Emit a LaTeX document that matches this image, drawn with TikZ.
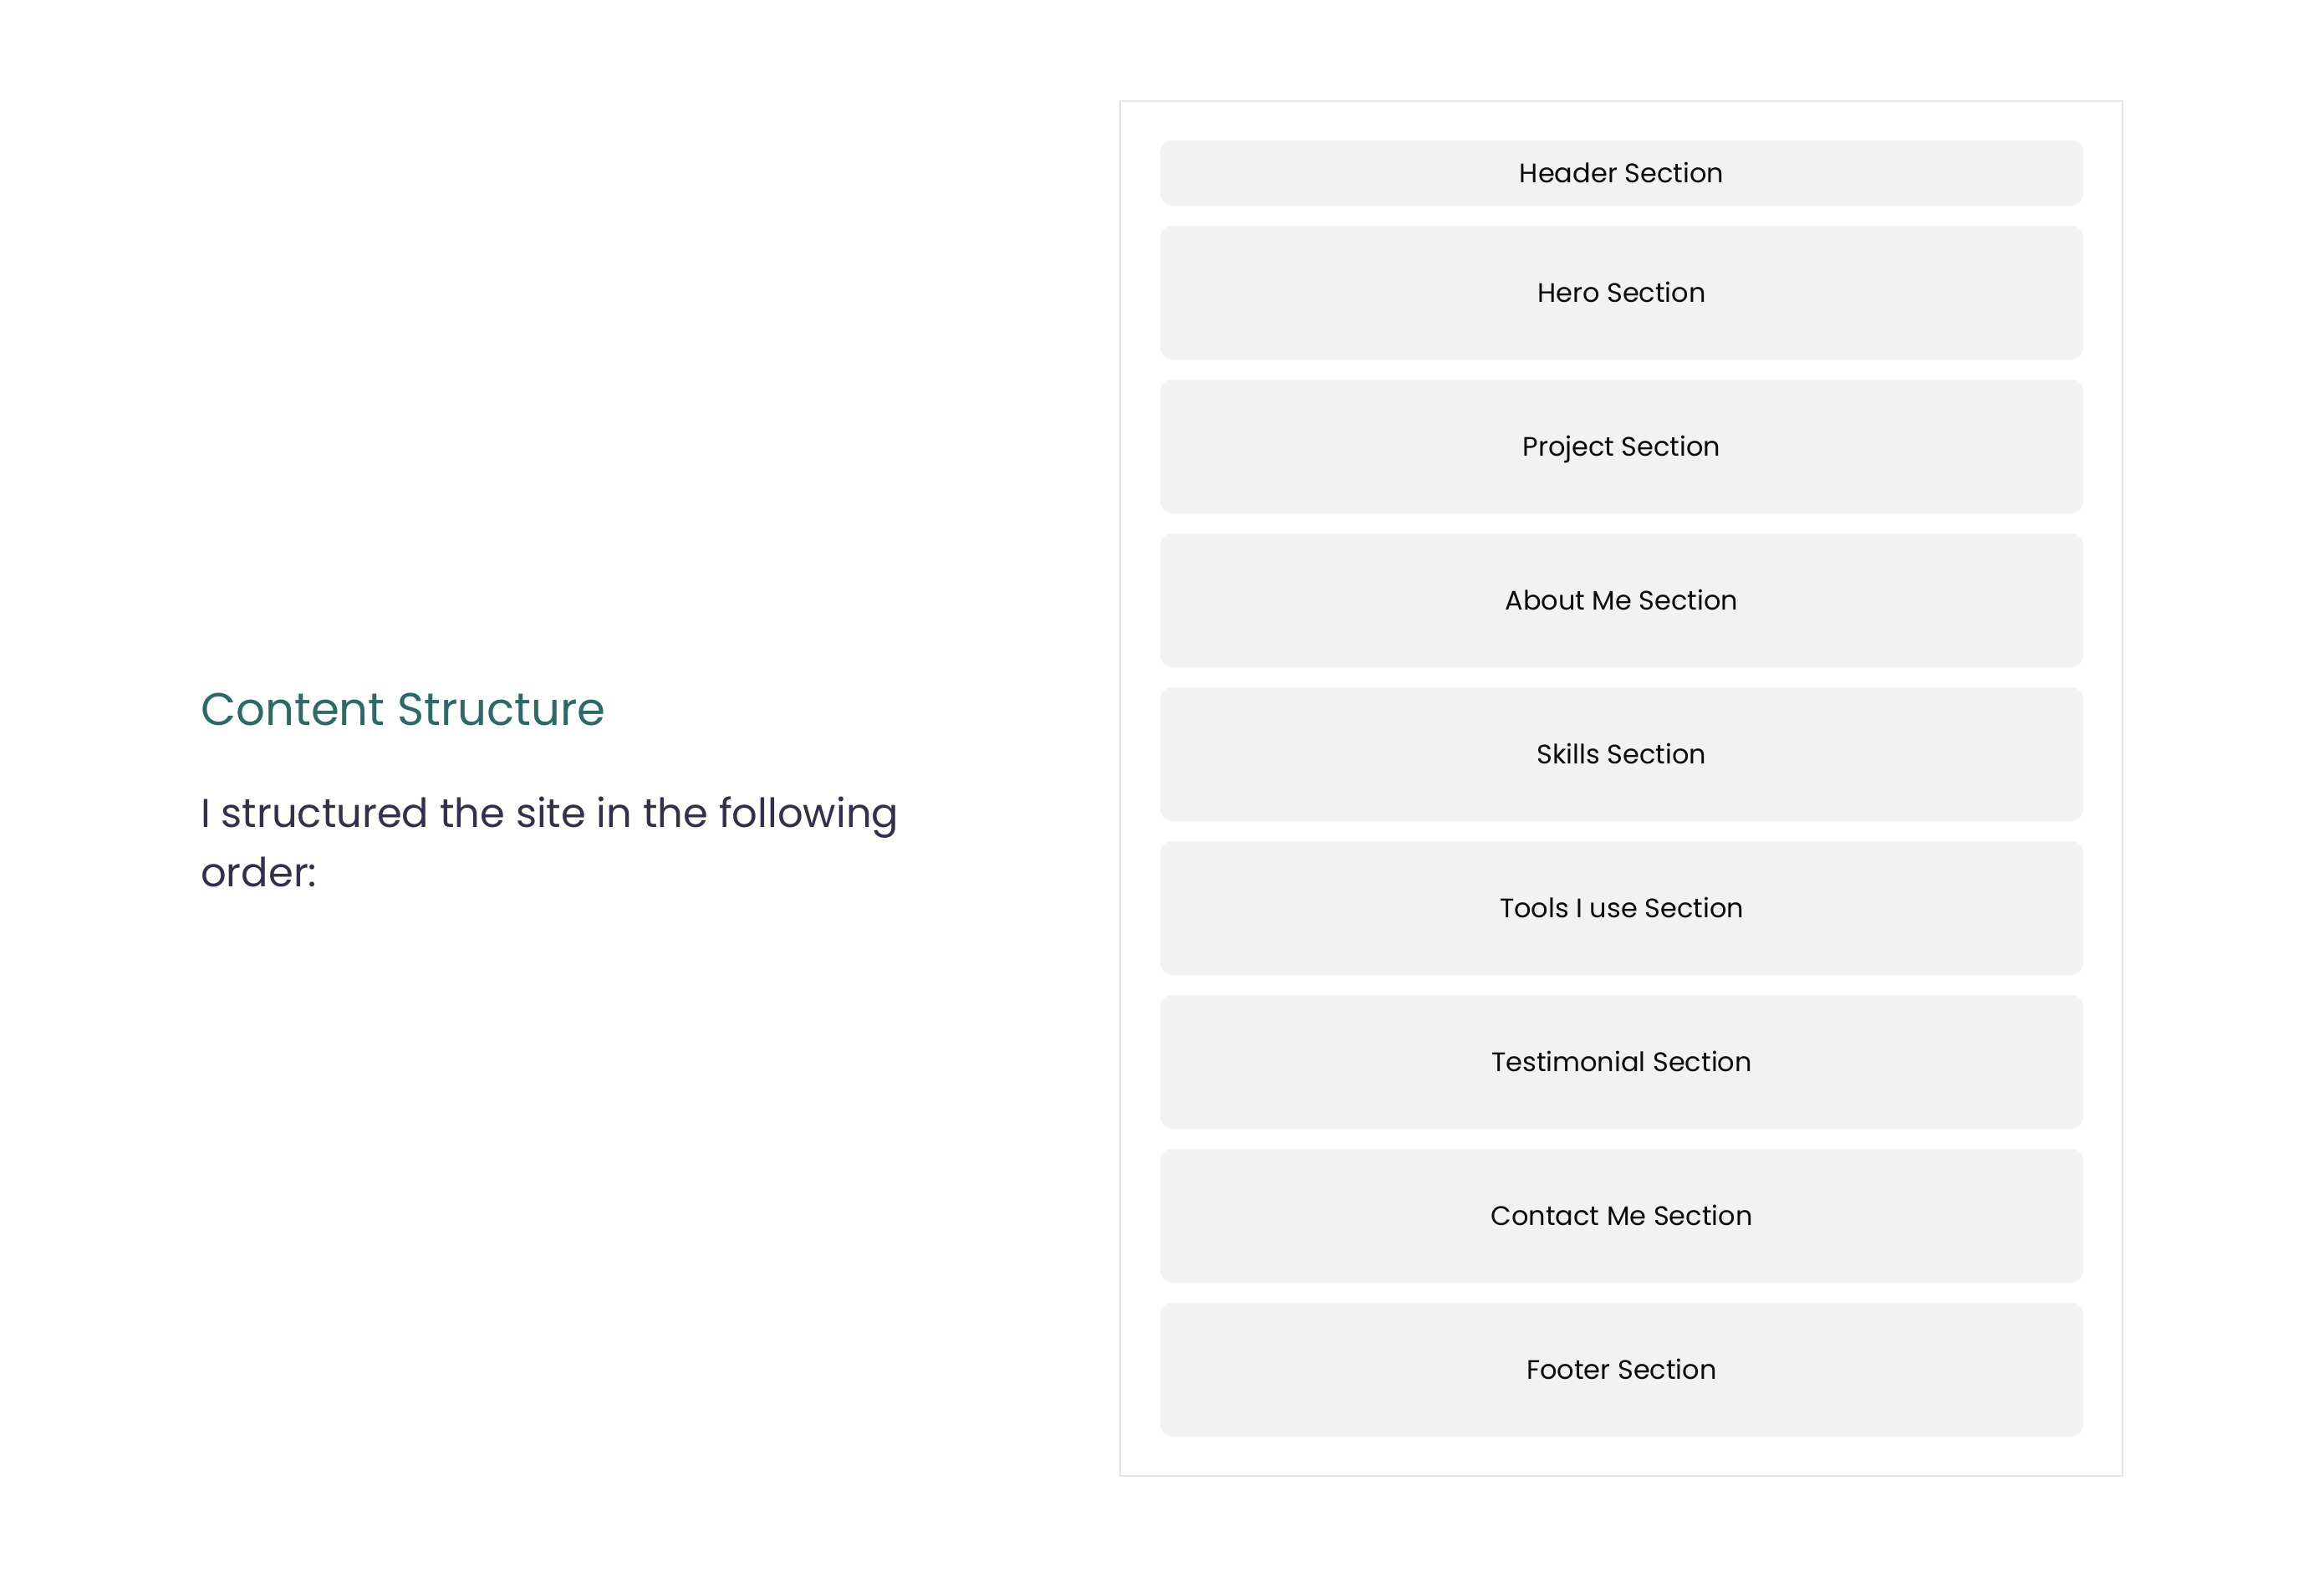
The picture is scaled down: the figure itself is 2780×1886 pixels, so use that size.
\documentclass[tikz,border=0pt]{standalone}
\usepackage{fontspec}
\setmainfont{Poppins}
\definecolor{titleteal}{HTML}{2A6A67}
\definecolor{bodyink}{HTML}{33304C}
\definecolor{boxfill}{HTML}{F2F2F2}
\definecolor{frameline}{HTML}{E4E4E4}
\definecolor{boxink}{HTML}{0A0A0A}
\tikzset{
  frame/.style={draw=frameline, line width=2pt, fill=white, inner sep=0pt},
  section/.style={fill=boxfill, draw=none, rounded corners=14pt, inner sep=0pt,
    minimum width=1104pt, minimum height=160pt, text=boxink,
    font=\fontsize{32}{38}\selectfont, text height=22.5pt, text depth=0pt},
  title/.style={anchor=base west, inner sep=0pt, text=titleteal,
    font=\fontsize{54.6}{66}\selectfont},
  body/.style={anchor=base west, inner sep=0pt, text=bodyink,
    font=\fontsize{48}{71}\selectfont, align=left},
}
\begin{document}
\begin{tikzpicture}[x=1pt,y=-1pt]
\useasboundingbox (0,0) rectangle (2780,1886);
\node[frame, minimum width=1199pt, minimum height=1644pt] (frame) at (1939.5,943) {};
\node[section, minimum height=78pt] (header) at (1940,207) {Header Section};
\node[section] (hero) at (1940,350) {Hero Section};
\node[section] (project) at (1940,534) {Project Section};
\node[section] (about) at (1940,718) {About Me Section};
\node[section] (skills) at (1940,902) {Skills Section};
\node[section] (tools) at (1940,1086) {Tools I use Section};
\node[section] (testimonial) at (1940,1270) {Testimonial Section};
\node[section] (contact) at (1940,1454) {Contact Me Section};
\node[section] (footer) at (1940,1638) {Footer Section};
\node[title] (heading) at (240,867) {Content Structure};
\node[body] (line1) at (240,989) {I structured the site in the following};
\node[body] (line2) at (240,1060) {order:};
\end{tikzpicture}
\end{document}
